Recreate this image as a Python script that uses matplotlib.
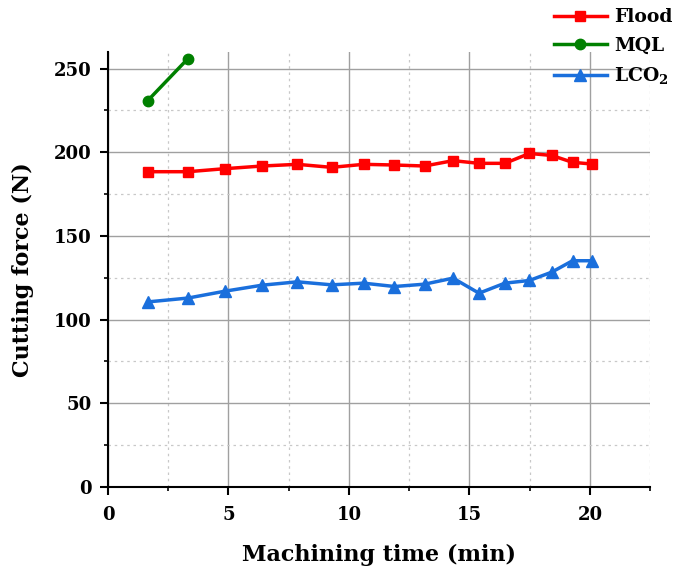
import matplotlib
matplotlib.use("Agg")
import matplotlib.pyplot as plt
from matplotlib.ticker import MultipleLocator

plt.rcParams['font.family'] = ['DejaVu Serif']
plt.rcParams['font.weight'] = 'bold'
plt.rcParams['mathtext.fontset'] = 'dejavuserif'

flood_x = [1.65, 3.32, 4.85, 6.40, 7.86, 9.28, 10.61, 11.89, 13.14, 14.32, 15.40, 16.47, 17.49, 18.42, 19.28, 20.08]
flood_y = [188.4, 188.4, 190.2, 191.8, 192.8, 191.0, 192.8, 192.4, 191.8, 195.0, 193.4, 193.4, 199.3, 198.1, 194.0, 193.0]
mql_x = [1.65, 3.32]
mql_y = [230.9, 256.0]
lco2_x = flood_x
lco2_y = [110.6, 112.9, 117.0, 120.6, 122.6, 120.8, 121.8, 119.8, 121.2, 124.8, 115.8, 121.8, 123.4, 128.4, 135.2, 135.2]

fig = plt.figure(figsize=(6.73, 5.70), dpi=100)
ax = fig.add_axes([0.1605, 0.1456, 0.8055, 0.7634])

ax.plot(flood_x, flood_y, color='#ff0000', lw=2.5, marker='s', ms=7, label='Flood', zorder=3)
ax.plot(mql_x, mql_y, color='#008000', lw=2.5, marker='o', ms=7.5, label='MQL', zorder=3)
ax.plot(lco2_x, lco2_y, color='#1a6fdc', lw=2.5, marker='^', ms=9, label='LCO$_\\mathbf{2}$', zorder=3)

ax.set_xlim(0, 22.5)
ax.set_ylim(0, 260)
ax.xaxis.set_major_locator(MultipleLocator(5))
ax.xaxis.set_minor_locator(MultipleLocator(2.5))
ax.yaxis.set_major_locator(MultipleLocator(50))
ax.yaxis.set_minor_locator(MultipleLocator(25))

ax.grid(which='major', color='#a0a0a0', lw=1.0, ls='-')
ax.grid(which='minor', color='#c8c8c8', lw=0.9, ls=(0, (2, 3)))
ax.set_axisbelow(True)

for s in ['top', 'right']:
    ax.spines[s].set_visible(False)
for s in ['left', 'bottom']:
    ax.spines[s].set_linewidth(1.5)

ax.tick_params(which='major', direction='out', length=6, width=1.5, labelsize=13, pad=6)
ax.tick_params(axis='x', which='major', pad=8)
ax.tick_params(which='minor', direction='out', length=3, width=1.2)
for lab in ax.get_xticklabels() + ax.get_yticklabels():
    lab.set_fontweight('bold')

ax.set_xlabel('Machining time (min)', fontsize=16, fontweight='bold', labelpad=14)
ax.set_ylabel('Cutting force (N)', fontsize=16, fontweight='bold', labelpad=14)

leg = fig.legend(loc='upper right', bbox_to_anchor=(1.012, 1.0), frameon=False,
                 prop={'weight': 'bold', 'size': 13.5}, handlelength=2.8,
                 labelspacing=0.55, handletextpad=0.4, borderaxespad=0.05)

fig.savefig('out.png', dpi=100)
